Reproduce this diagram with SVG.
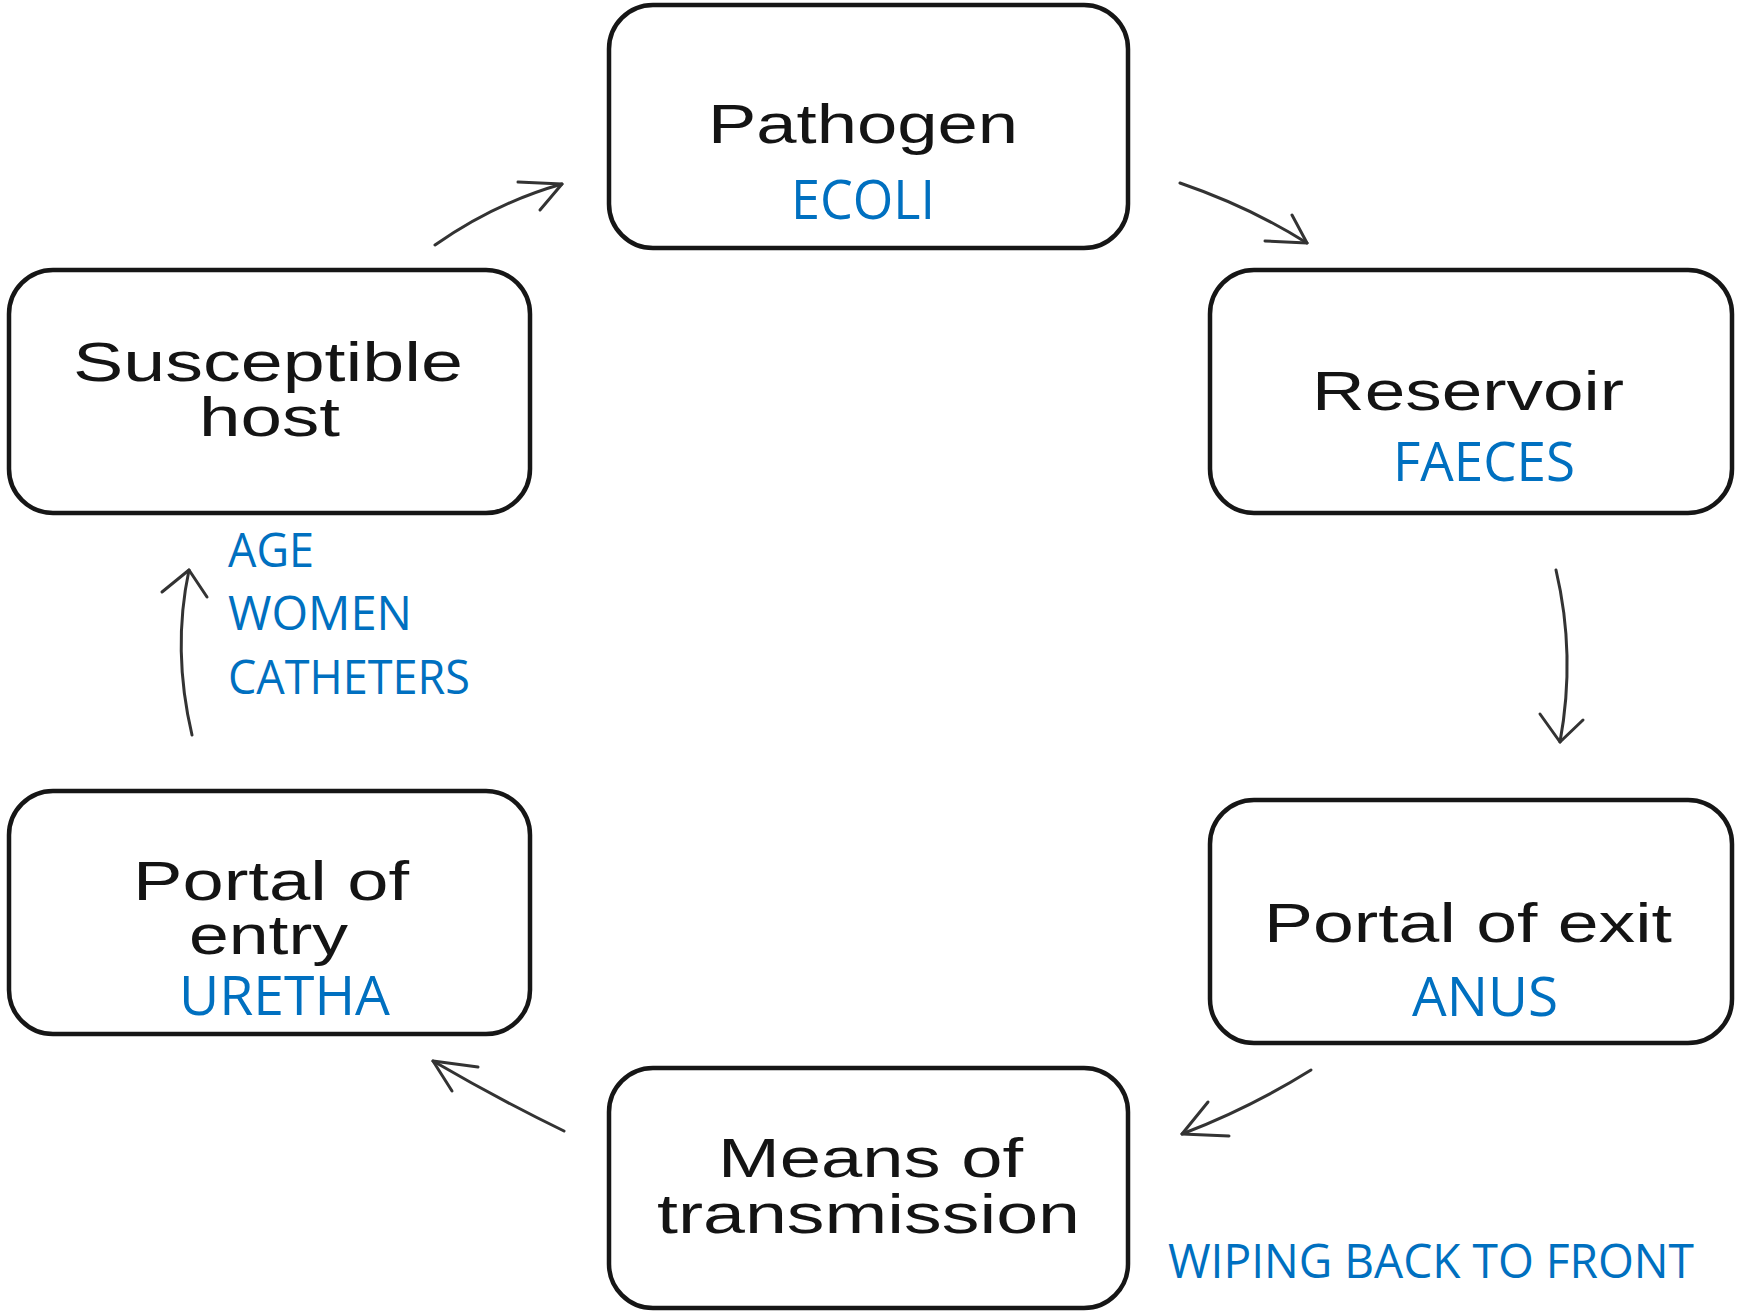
<svg xmlns="http://www.w3.org/2000/svg" width="1742" height="1312" viewBox="0 0 1742 1312">
  <style>
    .box { fill: #ffffff; stroke: #161616; stroke-width: 4.5; }
    .lbl { font-family: "Liberation Sans", Arial, sans-serif; font-size: 56px; fill: #141414; }
    .note { font-family: "Open Sans", "Noto Sans", sans-serif; fill: #0070C0; }
    .big { font-size: 55px; }
    .small { font-size: 47px; }
    .arrow { fill: none; stroke: #333333; stroke-width: 3; stroke-linecap: round; stroke-linejoin: round; }
  </style>
  <rect width="1742" height="1312" fill="#ffffff"/>

  <g id="connectors">
    <!-- host -> pathogen -->
    <path class="arrow" d="M435,245 Q495,203 562,184"/>
    <path class="arrow" d="M518,182 L562,184 L540,210"/>
    <!-- pathogen -> reservoir -->
    <path class="arrow" d="M1180,183 Q1250,207 1307,243"/>
    <path class="arrow" d="M1292,215 L1307,243 L1265,241"/>
    <!-- reservoir -> portal of exit -->
    <path class="arrow" d="M1556,570 Q1576,655 1560,742"/>
    <path class="arrow" d="M1540,714 L1560,742 L1583,720"/>
    <!-- portal of exit -> means of transmission -->
    <path class="arrow" d="M1311,1070 Q1250,1108 1182,1134"/>
    <path class="arrow" d="M1208,1102 L1182,1134 L1229,1136"/>
    <!-- means of transmission -> portal of entry -->
    <path class="arrow" d="M564,1131 Q500,1100 433,1061"/>
    <path class="arrow" d="M478,1067 L433,1061 L452,1091"/>
    <!-- portal of entry -> susceptible host -->
    <path class="arrow" d="M192,735 Q172,650 189,570"/>
    <path class="arrow" d="M162,592 L189,570 L207,597"/>
  </g>

  <g id="pathogen">
    <rect class="box" x="609" y="5" width="519" height="243" rx="44"/>
    <text class="lbl" x="708" y="143" textLength="310" lengthAdjust="spacingAndGlyphs">Pathogen</text>
    <text class="note big" x="791" y="219" textLength="144" lengthAdjust="spacingAndGlyphs">ECOLI</text>
  </g>

  <g id="reservoir">
    <rect class="box" x="1210" y="270" width="522" height="243" rx="44"/>
    <text class="lbl" x="1312" y="410" textLength="312" lengthAdjust="spacingAndGlyphs">Reservoir</text>
    <text class="note big" x="1393" y="481" textLength="182" lengthAdjust="spacingAndGlyphs">FAECES</text>
  </g>

  <g id="portal-of-exit">
    <rect class="box" x="1210" y="800" width="522" height="243" rx="44"/>
    <text class="lbl" x="1264" y="942" textLength="408" lengthAdjust="spacingAndGlyphs">Portal of exit</text>
    <text class="note big" x="1412" y="1016" textLength="146" lengthAdjust="spacingAndGlyphs">ANUS</text>
  </g>

  <g id="means-of-transmission">
    <rect class="box" x="609" y="1068" width="519" height="240" rx="44"/>
    <text class="lbl" x="718" y="1177" textLength="305" lengthAdjust="spacingAndGlyphs">Means of</text>
    <text class="lbl" x="657" y="1233" textLength="423" lengthAdjust="spacingAndGlyphs">transmission</text>
    <text class="note small" x="1168" y="1278" textLength="526" lengthAdjust="spacingAndGlyphs">WIPING BACK TO FRONT</text>
  </g>

  <g id="portal-of-entry">
    <rect class="box" x="9" y="791" width="521" height="243" rx="44"/>
    <text class="lbl" x="133" y="900" textLength="276" lengthAdjust="spacingAndGlyphs">Portal of</text>
    <text class="lbl" x="189" y="954" textLength="159" lengthAdjust="spacingAndGlyphs">entry</text>
    <text class="note big" x="179" y="1015" textLength="211" lengthAdjust="spacingAndGlyphs">URETHA</text>
  </g>

  <g id="susceptible-host">
    <rect class="box" x="9" y="270" width="521" height="243" rx="44"/>
    <text class="lbl" x="73" y="381" textLength="390" lengthAdjust="spacingAndGlyphs">Susceptible</text>
    <text class="lbl" x="199" y="436" textLength="141" lengthAdjust="spacingAndGlyphs">host</text>
    <text class="note small" x="228" y="567" textLength="86" lengthAdjust="spacingAndGlyphs">AGE</text>
    <text class="note small" x="228" y="630" textLength="184" lengthAdjust="spacingAndGlyphs">WOMEN</text>
    <text class="note small" x="228" y="694" textLength="242" lengthAdjust="spacingAndGlyphs">CATHETERS</text>
  </g>
</svg>
